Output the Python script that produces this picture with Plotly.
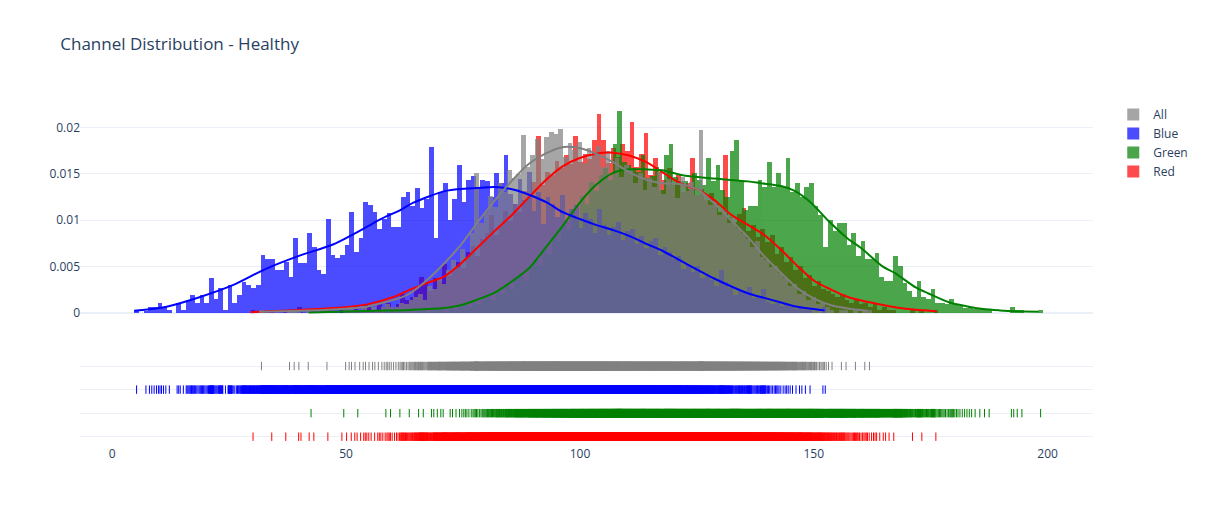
import plotly.graph_objects as go

# ---------------- data ----------------
# Draw order (bottom -> top); the legend is shown reversed: All, Blue, Green, Red
series_names = ["Red", "Green", "Blue", "All"]
series_colors = ["red", "green", "blue", "gray"]

# Histogram: left edge of the first 1-unit bin and the bar heights
# (probability density, in units of 1e-4) for each consecutive bin
red_start = 29.6
red_density_e4 = [
    3, 0, 0, 0, 3, 0, 0, 3, 0, 0,
    6, 0, 3, 3, 0, 0, 3, 0, 0, 3,
    3, 3, 6, 3, 9, 6, 3, 9, 6, 11,
    6, 9, 20, 14, 17, 26, 39, 31, 23, 37,
    34, 53, 40, 46, 55, 48, 66, 72, 61, 80,
    86, 106, 84, 95, 110, 99, 118, 109, 132, 124,
    141, 191, 138, 152, 149, 164, 156, 170, 161, 191,
    163, 172, 166, 187, 215, 187, 162, 178, 168, 182,
    175, 206, 158, 172, 194, 149, 167, 152, 143, 156,
    138, 149, 131, 140, 167, 127, 134, 122, 129, 118,
    109, 170, 104, 98, 107, 113, 88, 95, 82, 90,
    76, 84, 63, 71, 55, 60, 46, 50, 38, 41,
    29, 34, 26, 23, 20, 17, 20, 14, 11, 14,
    9, 11, 6, 9, 3, 6, 3, 3, 0, 0,
    0, 3, 0, 3, 0, 0, 3]

green_start = 42.0
green_density_e4 = [
    3, 0, 0, 0, 0, 0, 0, 3, 0, 0,
    3, 0, 0, 0, 0, 0, 3, 3, 0, 3,
    0, 3, 0, 3, 3, 0, 6, 3, 6, 0,
    6, 3, 6, 9, 6, 11, 9, 14, 17, 14,
    23, 20, 29, 26, 37, 40, 34, 49, 57, 52,
    69, 63, 83, 78, 95, 89, 112, 104, 126, 118,
    141, 132, 149, 157, 143, 182, 218, 163, 160, 156,
    152, 170, 146, 148, 158, 133, 170, 182, 147, 142,
    142, 134, 151, 144, 138, 167, 142, 160, 133, 125,
    175, 187, 142, 111, 115, 115, 143, 136, 163, 136,
    151, 136, 167, 131, 140, 125, 136, 140, 115, 106,
    71, 100, 88, 97, 97, 73, 86, 61, 77, 58,
    58, 65, 39, 34, 34, 61, 50, 32, 23, 17,
    34, 17, 15, 26, 11, 11, 9, 15, 9, 7,
    5, 6, 4, 4, 3, 3, 0, 0, 0, 0,
    6, 3, 3, 0, 0, 0, 3]

blue_start = 4.7
blue_density_e4 = [
    3, 0, 2, 6, 6, 10, 6, 3, 0, 10,
    3, 14, 19, 11, 19, 11, 38, 15, 27, 3,
    30, 10, 19, 33, 30, 27, 30, 62, 58, 58,
    46, 46, 55, 39, 81, 54, 54, 86, 71, 46,
    42, 101, 62, 59, 62, 73, 109, 66, 81, 120,
    117, 109, 90, 101, 108, 93, 93, 125, 131, 115,
    135, 113, 123, 179, 81, 131, 140, 100, 123, 160,
    120, 143, 148, 135, 144, 142, 125, 151, 140, 171,
    128, 118, 145, 122, 152, 110, 131, 96, 125, 118,
    104, 127, 99, 112, 116, 92, 108, 101, 86, 112,
    95, 84, 93, 98, 79, 88, 91, 74, 83, 70,
    77, 81, 62, 71, 66, 58, 61, 47, 52, 44,
    50, 37, 41, 35, 29, 46, 33, 27, 19, 24,
    22, 28, 16, 17, 26, 12, 9, 11, 7, 9,
    6, 4, 7, 3, 3, 0, 0, 6]

all_start = 31.4
all_density_e4 = [
    3, 0, 0, 0, 0, 0, 3, 3, 3, 0,
    3, 0, 0, 0, 3, 0, 0, 0, 3, 6,
    3, 3, 6, 3, 6, 3, 6, 9, 6, 6,
    11, 9, 14, 17, 20, 14, 29, 26, 37, 31,
    46, 57, 49, 69, 60, 86, 151, 97, 109, 126,
    114, 140, 131, 154, 146, 150, 192, 158, 170, 188,
    166, 190, 195, 193, 199, 168, 183, 176, 185, 162,
    178, 171, 180, 158, 175, 150, 167, 147, 160, 156,
    140, 151, 133, 146, 136, 152, 128, 145, 138, 124,
    147, 132, 141, 127, 198, 128, 117, 122, 106, 112,
    97, 104, 92, 86, 80, 71, 77, 60, 57, 49,
    51, 43, 37, 29, 31, 20, 23, 14, 17, 9,
    11, 6, 3, 0, 3, 3, 0, 3, 0, 3,
    3]

# approximate number of samples per channel (density -> counts for the rug)
sample_count = 3400

# KDE curves: x and density (units of 1e-3)
red_kde_x = [29.6, 40.2, 47.3, 54.5, 60.1, 63.7, 67.2, 70.9, 74.5, 78.0, 81.9, 85.5,
             89.1, 92.6, 96.2, 99.8, 103.4, 107.0, 110.5, 114.1, 117.6, 121.4, 125.2,
             128.7, 132.3, 135.9, 139.4, 143.0, 146.6, 150.2, 153.7, 157.3, 161.7,
             168.3, 176.2]
red_kde_e3 = [0.05, 0.3, 0.5, 0.9, 1.7, 2.5, 3.2, 3.9, 5.3, 7.0, 8.9, 10.6,
              12.5, 14.3, 15.8, 16.7, 17.2, 17.3, 17.0, 16.3, 15.2, 14.0, 13.3,
              12.2, 10.6, 9.5, 8.4, 6.8, 5.0, 3.4, 2.5, 1.7, 1.15,
              0.5, 0.15]

green_kde_x = [42.0, 56.5, 63.7, 70.9, 74.5, 78.0, 81.9, 85.5, 89.1, 92.6, 96.2, 99.8,
               103.4, 107.0, 110.5, 114.1, 117.6, 121.6, 128.7, 135.9, 138.7, 143.0,
               145.8, 149.4, 153.0, 157.3, 160.1, 164.7, 167.3, 171.9, 174.4, 179.0,
               182.6, 186.2, 189.7, 193.3, 198.0]
green_kde_e3 = [0.02, 0.2, 0.3, 0.5, 0.8, 1.4, 2.2, 3.4, 4.8, 7.0, 9.3, 11.8,
                13.8, 15.1, 15.5, 15.5, 15.4, 14.9, 14.5, 14.2, 14.0, 13.7,
                13.2, 11.9, 10.0, 8.0, 7.0, 5.0, 4.3, 2.7, 2.1, 1.1,
                0.7, 0.4, 0.25, 0.15, 0.1]

blue_kde_x = [4.7, 11.6, 18.8, 25.9, 33.1, 40.2, 47.3, 54.5, 57.3, 61.6, 64.4, 71.6,
              78.7, 81.6, 85.9, 89.4, 93.0, 96.2, 100.1, 103.4, 107.3, 110.5, 114.4,
              117.6, 121.6, 128.7, 135.9, 139.4, 143.0, 145.8, 152.3]
blue_kde_e3 = [0.2, 0.65, 1.7, 3.0, 4.8, 6.2, 7.4, 9.3, 10.1, 11.1, 11.9, 13.2,
               13.5, 13.6, 13.3, 12.7, 11.9, 10.9, 10.1, 9.5, 8.9, 8.3, 7.4,
               6.7, 5.6, 3.7, 2.1, 1.6, 1.1, 0.7, 0.25]

all_kde_x = [31.4, 40.2, 47.3, 54.5, 57.3, 61.6, 63.7, 67.0, 70.9, 74.5, 78.0, 81.9,
             85.5, 89.1, 92.6, 96.2, 99.8, 103.4, 107.0, 110.5, 114.1, 117.6, 121.6,
             125.2, 128.7, 132.3, 135.9, 139.4, 143.0, 146.6, 150.2, 153.7, 157.3, 161.5]
all_kde_e3 = [0.1, 0.2, 0.35, 0.65, 1.0, 1.6, 2.1, 3.4, 5.3, 7.3, 9.7, 12.2,
              14.3, 16.1, 17.2, 17.9, 17.8, 17.2, 16.3, 15.2, 14.4, 14.0, 13.9,
              13.3, 11.8, 10.0, 8.2, 6.1, 4.3, 2.6, 1.5, 0.8, 0.45, 0.2]

starts = [red_start, green_start, blue_start, all_start]
densities = [red_density_e4, green_density_e4, blue_density_e4, all_density_e4]
kde_xs = [red_kde_x, green_kde_x, blue_kde_x, all_kde_x]
kde_ys = [red_kde_e3, green_kde_e3, blue_kde_e3, all_kde_e3]


def rug_positions(start, dens):
    """Spread each bin's sample count across the bin for the rug."""
    xs = []
    for k, h in enumerate(dens):
        c = int(round(h * sample_count / 1e4))
        for j in range(c):
            xs.append(start + k + (j + 0.5) / c)
    return xs


fig = go.Figure()

# histograms
for name, color, start, dens in zip(series_names, series_colors, starts, densities):
    fig.add_trace(go.Bar(
        x=[start + k + 0.5 for k in range(len(dens))],
        y=[h / 1e4 for h in dens],
        width=1,
        name=name,
        marker=dict(color=color, line=dict(width=0)),
        opacity=0.7,
        xaxis="x", yaxis="y",
    ))

# KDE curves
for name, color, kx, ky in zip(series_names, series_colors, kde_xs, kde_ys):
    fig.add_trace(go.Scatter(
        x=kx, y=[v / 1e3 for v in ky],
        mode="lines", line=dict(color=color, width=2, shape="spline", smoothing=0.8),
        name=name, showlegend=False, xaxis="x", yaxis="y",
    ))

# rugs
for name, color, start, dens in zip(series_names, series_colors, starts, densities):
    rx = rug_positions(start, dens)
    fig.add_trace(go.Scatter(
        x=rx, y=[name] * len(rx),
        mode="markers", marker=dict(color=color, symbol="line-ns-open"),
        name=name, showlegend=False, xaxis="x", yaxis="y2",
    ))

fig.update_layout(
    template="plotly_white",
    width=1205, height=525,
    title=dict(text="Channel Distribution - Healthy"),
    barmode="overlay",
    bargap=0,
    hovermode="closest",
    legend=dict(traceorder="reversed"),
    xaxis=dict(domain=[0, 1], anchor="y2", range=[-6.9, 209.7], dtick=50,
               showgrid=False, zeroline=False),
    yaxis=dict(domain=[0.35, 1], anchor="free", position=0.0,
               range=[-0.00125, 0.023], dtick=0.005),
    yaxis2=dict(domain=[0, 0.25], anchor="x", type="category",
                categoryorder="array", categoryarray=series_names,
                range=[-0.352, 3.31], showticklabels=False, dtick=1),
)

fig.write_html("out.html",
               config={"displayModeBar": False},
               post_script="document.body.style.margin='0';"
                           "document.body.style.overflow='hidden';")
